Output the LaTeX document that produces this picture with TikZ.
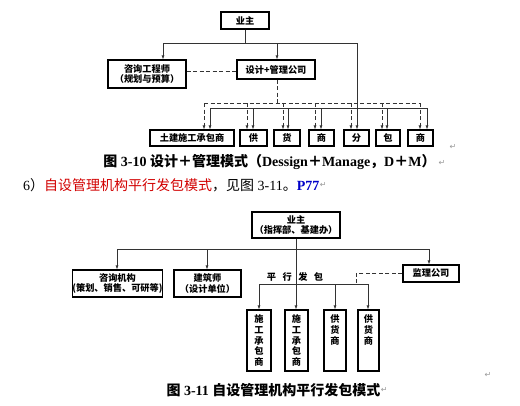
\documentclass[tikz,border=0pt]{standalone}
\usepackage{fontspec}
\setmainfont{Liberation Serif}
\newfontfamily\cjk{Noto Sans CJK SC}
\newfontfamily\symf{DejaVu Sans}
\usetikzlibrary{arrows.meta}
\definecolor{redtxt}{RGB}{210,0,0}
\definecolor{bluetxt}{RGB}{0,0,200}
\tikzset{
  box/.style={draw=black, line width=1.1pt, inner sep=0pt, align=center,
    font=\cjk\bfseries\fontsize{9.2}{10.8}\selectfont},
  ln/.style={draw=black!80, line width=0.6pt},
  arr/.style={ln, -{Latex[length=4pt,width=3pt]}},
  dsh/.style={ln, dash pattern=on 4pt off 2.5pt},
  darr/.style={dsh, -{Latex[length=4pt,width=3pt]}},
  ret/.style={font=\symf\fontsize{8}{8}\selectfont, text=black!40, inner sep=0pt},
  plain/.style={inner sep=0pt}
}
\begin{document}
\begin{tikzpicture}[x=1pt,y=-1pt]
\fill[white] (0,0) rectangle (520,405);
\useasboundingbox (0,0) rectangle (520,405);

% ---------- Diagram 3-10 ----------
\node[box, minimum width=48, minimum height=17] (o1) at (245,20.5) {业主};
\node[box, minimum width=78, minimum height=28] (c1) at (147,74) {咨询工程师\\（规划与预算）};
\node[box, minimum width=78, minimum height=19] (d1) at (276,69.5) {设计+管理公司};

\node[box, minimum width=84, minimum height=16] (t1) at (192,138) {土建施工承包商};
\node[box, minimum width=27, minimum height=16] (t2) at (253.5,138) {供};
\node[box, minimum width=26, minimum height=16] (t3) at (287,138) {货};
\node[box, minimum width=25, minimum height=16] (t4) at (321.5,138) {商};
\node[box, minimum width=25, minimum height=16] (t5) at (356.5,138) {分};
\node[box, minimum width=24, minimum height=16] (t6) at (388,138) {包};
\node[box, minimum width=25, minimum height=16] (t7) at (420.5,138) {商};

\coordinate (b1) at (245,43);
\draw[ln] (o1.south) -- (b1);
\draw[ln] (163,43) -- (357,43);
\draw[arr] (163,43) -- (163,0 |- c1.north);
\draw[arr] (277,43) -- (277,0 |- d1.north);
\draw[dsh] (c1.east |- 0,71) -- (d1.west |- 0,71);

% solid distribution
\draw[ln] (210,108) -- (427,108);
\draw[arr] (357,43) -- (357,0 |- t5.north);
\draw[arr] (210,108) -- (210,0 |- t1.north);
\draw[arr] (253,108) -- (253,0 |- t2.north);
\draw[arr] (288,108) -- (288,0 |- t3.north);
\draw[arr] (321,108) -- (321,0 |- t4.north);
\draw[arr] (387,108) -- (387,0 |- t6.north);
\draw[arr] (427,108) -- (427,0 |- t7.north);

% dashed distribution
\draw[dsh] (277,0 |- d1.south) -- (277,103);
\draw[dsh] (204,103) -- (420,103);
\draw[darr] (204,103) -- (204,0 |- t1.north);
\draw[darr] (247,103) -- (247,0 |- t2.north);
\draw[darr] (283,103) -- (283,0 |- t3.north);
\draw[darr] (315,103) -- (315,0 |- t4.north);
\draw[darr] (351,103) -- (351,0 |- t5.north);
\draw[darr] (382,103) -- (382,0 |- t6.north);
\draw[darr] (420,103) -- (420,0 |- t7.north);

% caption 1
\node[plain, font=\fontsize{14}{16}\selectfont\bfseries] (cap1) at (269.5,162)
  {{\cjk 图} 3-10 {\cjk 设计＋管理模式（}Dessign{\cjk ＋}Manage{\cjk ，}D{\cjk ＋}M{\cjk ）}};
\node[ret] (r1) at (442,163) {↵};
\node[ret] (r2) at (453,147) {↵};

% paragraph line
\node[plain, anchor=west, font=\fontsize{14}{16}\selectfont] (para) at (23,185)
  {6{\cjk ）}\textcolor{redtxt}{\cjk 自设管理机构平行发包模式}{\cjk ，见图} 3-11{\cjk 。}\textcolor{bluetxt}{\bfseries P77}};
\node[ret, anchor=west] (r3) at (para.east) {↵};

% ---------- Diagram 3-11 ----------
\node[box, minimum width=88, minimum height=26] (o2) at (296,225) {业主\\（指挥部、基建办）};
\node[box, minimum width=89, minimum height=27] (z2) at (117.5,283.5) {咨询机构\\(策划、销售、可研等)};
\node[box, minimum width=67, minimum height=27] (j2) at (207.5,283.5) {建筑师\\（设计单位）};
\node[box, minimum width=56, minimum height=17] (m2) at (431,273.5) {监理公司};

\node[box, minimum width=24, minimum height=61] (p1) at (259,340.5) {施\\工\\承\\包\\商};
\node[box, minimum width=23, minimum height=61] (p2) at (296.5,340.5) {施\\工\\承\\包\\商};
\node[box, minimum width=22, minimum height=61] (p3) at (335,340.5) {供\\货\\商\\\phantom{商}\\\phantom{商}};
\node[box, minimum width=21, minimum height=61] (p4) at (368.5,340.5) {供\\货\\商\\\phantom{商}\\\phantom{商}};

\draw[arr] (o2.south) -- (o2.south |- p2.north);
\draw[ln] (117,249) -- (429,249);
\draw[arr] (117,249) -- (117,0 |- z2.north);
\draw[arr] (207,249) -- (207,0 |- j2.north);
\draw[arr] (429,249) -- (429,0 |- m2.north);

\node[plain, font=\cjk\bfseries\fontsize{9.2}{10}\selectfont] (pxfb) at (295,277)
  {平\hspace{6.5pt}行\hspace{6.5pt}发\hspace{6.5pt}包};
\draw[dsh] (m2.west) -- (356,273.5) -- (356,284);
\draw[ln] (259,284) -- (368,284);
\draw[arr] (259,284) -- (259,0 |- p1.north);
\draw[arr] (335,284) -- (335,0 |- p3.north);
\draw[arr] (368,284) -- (368,0 |- p4.north);

% caption 2
\node[plain, font=\fontsize{14}{16}\selectfont\bfseries] (cap2) at (273.5,390)
  {{\cjk 图} 3-11 {\cjk 自设管理机构平行发包模式}};
\node[ret, anchor=west] (r4) at (cap2.east) {↵};
\node[ret] (r5) at (488,375) {↵};
\end{tikzpicture}
\end{document}
